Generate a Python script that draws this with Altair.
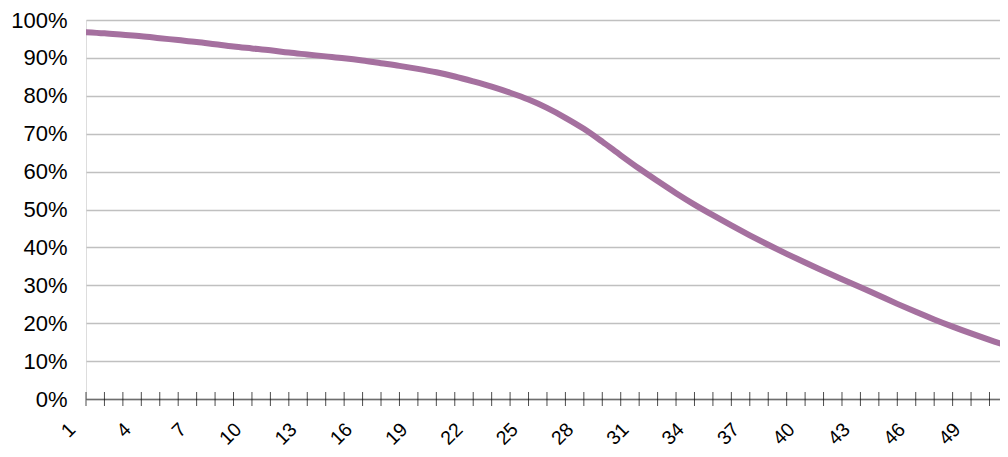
import altair as alt
import pandas as pd

categories = list(range(1, 52))
values = [96.8, 96.5, 96.1, 95.7, 95.2, 94.7, 94.2, 93.6, 93.0, 92.5,
          92.0, 91.4, 90.9, 90.4, 89.9, 89.3, 88.6, 87.9, 87.1, 86.2,
          85.1, 83.8, 82.4, 80.8, 79.0, 76.8, 74.2, 71.3, 67.9, 64.3,
          60.8, 57.5, 54.3, 51.3, 48.5, 45.8, 43.2, 40.7, 38.3, 36.0,
          33.8, 31.6, 29.5, 27.3, 25.1, 23.0, 21.0, 19.1, 17.3, 15.6, 14.0]
label_values = list(range(1, 51, 3))
y_ticks = [0, 0.1, 0.2, 0.3, 0.4, 0.5, 0.6, 0.7, 0.8, 0.9, 1.0]

df = pd.DataFrame({"cat": categories,
                   "val": [v / 100 for v in values],
                   "base": [0.0] * len(categories)})

FONT = "Liberation Sans"
X_DOMAIN = [1, 50.57]

x_axis = alt.Axis(values=label_values, title=None, grid=False, ticks=False,
                  labelAngle=-45, labelAlign="right", labelBaseline="middle",
                  labelPadding=27, labelOffset=-14, labelFontSize=19.5,
                  labelFont=FONT, labelColor="#000000",
                  domainColor="#6e6e6e", domainWidth=1.5,
                  labelOverlap=False, labelFlush=False)
y_axis = alt.Axis(values=y_ticks, format=".0%", title=None, ticks=False,
                  domain=False, grid=True, gridColor="#c0c0c0", gridWidth=1.6,
                  labelPadding=19, labelFontSize=22, labelFont=FONT,
                  labelColor="#000000", labelOverlap=False, tickCount=11)
x_scale = alt.Scale(domain=X_DOMAIN, nice=False, zero=False)
y_scale = alt.Scale(domain=[0, 1], nice=False)

line = alt.Chart(df).mark_line(color="#A5709F", strokeWidth=6, interpolate="monotone",
                               strokeCap="round", clip=True).encode(
    x=alt.X("cat:Q", scale=x_scale, axis=x_axis, title=None),
    y=alt.Y("val:Q", scale=y_scale, axis=y_axis, title=None))

ticks = alt.Chart(df).mark_tick(color="#000000", size=14, thickness=1,
                                orient="vertical", clip=False).encode(
    x=alt.X("cat:Q", scale=x_scale, axis=x_axis, title=None),
    y=alt.Y("base:Q", scale=y_scale, axis=y_axis, title=None))

chart = alt.layer(line, ticks).transform_filter(
    alt.datum.cat <= 51
).properties(
    width=914, height=379,
    autosize=alt.AutoSizeParams(type="none"),
    padding={"left": 78, "top": 12, "right": 0, "bottom": 50},
).configure_view(stroke=None).configure(background="#ffffff")

chart.save("out.html", embed_options={"renderer": "svg", "actions": False})
